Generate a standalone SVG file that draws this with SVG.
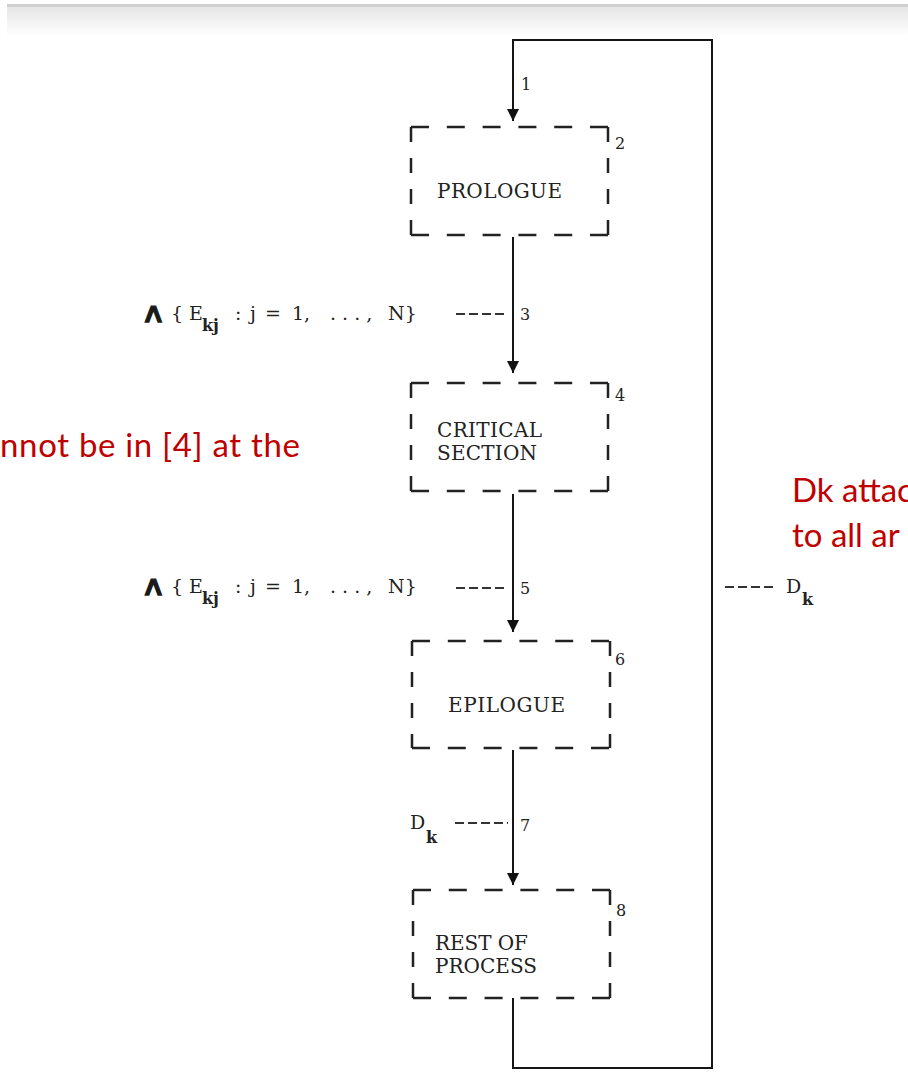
<svg xmlns="http://www.w3.org/2000/svg" width="908" height="1074" viewBox="0 0 908 1074">
<defs>
<linearGradient id="topfade" x1="0" y1="0" x2="0" y2="1">
<stop offset="0" stop-color="#e6e6e6"/>
<stop offset="1" stop-color="#ffffff"/>
</linearGradient>
<marker id="ah" markerUnits="userSpaceOnUse" markerWidth="12" markerHeight="12" viewBox="0 0 12 12" refX="12" refY="6" orient="auto">
<path d="M0,0 L12,6 L0,12 z" fill="#111"/>
</marker>
<style>
.wire{fill:none;stroke:#151515;stroke-width:2}
.lead{fill:none;stroke:#333;stroke-width:2.2;stroke-dasharray:9 4}
.bh{stroke:#222;stroke-width:2.5;stroke-dasharray:18 17.8}
.bv{stroke:#222;stroke-width:2.5;stroke-dasharray:15 16}
.lbl{font-family:"DejaVu Serif","Liberation Serif",serif;font-size:20px;fill:#222}
.num{font-family:"DejaVu Serif","Liberation Serif",serif;font-size:16px;fill:#222}
.math{font-family:"DejaVu Serif","Liberation Serif",serif;font-size:19px;fill:#222}
.sub{font-size:16px;font-weight:bold}
.wedge{font-family:"DejaVu Sans",sans-serif;font-size:26px;fill:#1a1a1a;stroke:#1a1a1a;stroke-width:1.2}
.red{font-family:Lato,"Open Sans",sans-serif;font-size:33px;fill:#c00000}
</style>
</defs>
<rect x="0" y="0" width="908" height="1074" fill="#ffffff"/>
<rect x="7" y="7" width="901" height="30" fill="url(#topfade)"/>
<line x1="7" y1="5.5" x2="908" y2="5.5" stroke="#cfcfcf" stroke-width="3"/>

<g id="connectors">
<path id="e8-2" class="wire" d="M513,998 L513,1068 L712,1068 L712,40 L513,40 L513,121" marker-end="url(#ah)"/>
<path id="e2-4" class="wire" d="M513,237 L513,373" marker-end="url(#ah)"/>
<path id="e4-6" class="wire" d="M513,494 L513,632" marker-end="url(#ah)"/>
<path id="e6-8" class="wire" d="M513,750 L513,885" marker-end="url(#ah)"/>
<line class="lead" x1="456" y1="314" x2="508" y2="314"/>
<line class="lead" x1="456" y1="588" x2="508" y2="588"/>
<line class="lead" x1="455" y1="823" x2="508" y2="823"/>
<line class="lead" x1="725" y1="587" x2="776" y2="587"/>
<text class="num" x="521" y="90">1</text>
<text class="num" x="520" y="320">3</text>
<text class="num" x="520" y="594">5</text>
<text class="num" x="520" y="831">7</text>
<text class="wedge" transform="translate(141,322) scale(1.3,1.05)">∧</text>
<text class="wedge" transform="translate(141,595) scale(1.3,1.05)">∧</text>
<text class="math" y="320"><tspan x="171">{</tspan><tspan x="189">E</tspan><tspan class="sub" x="202" y="331">kj</tspan><tspan x="235" y="320">:</tspan><tspan x="250">j</tspan><tspan x="265">=</tspan><tspan x="292">1,</tspan><tspan x="330">. . . ,</tspan><tspan x="388">N}</tspan></text>
<text class="math" y="593"><tspan x="171">{</tspan><tspan x="189">E</tspan><tspan class="sub" x="202" y="604">kj</tspan><tspan x="235" y="593">:</tspan><tspan x="250">j</tspan><tspan x="265">=</tspan><tspan x="292">1,</tspan><tspan x="330">. . . ,</tspan><tspan x="388">N}</tspan></text>
<text class="math" x="410" y="829">D<tspan class="sub" x="426" y="843">k</tspan></text>
<text class="math" x="786" y="593">D<tspan class="sub" x="802" y="605">k</tspan></text>
</g>

<g id="node2">
<line class="bh" x1="411" y1="127" x2="608" y2="127"/>
<line class="bh" x1="411" y1="235" x2="608" y2="235"/>
<line class="bv" x1="411" y1="127" x2="411" y2="235"/>
<line class="bv" x1="608" y1="127" x2="608" y2="235"/>
<text class="lbl" x="437" y="198" textLength="125">PROLOGUE</text>
<text class="num" x="615" y="149">2</text>
</g>

<g id="node4">
<line class="bh" x1="411" y1="383" x2="608" y2="383"/>
<line class="bh" x1="411" y1="491" x2="608" y2="491"/>
<line class="bv" x1="411" y1="383" x2="411" y2="491"/>
<line class="bv" x1="608" y1="383" x2="608" y2="491"/>
<text class="lbl" x="437" y="437" textLength="105">CRITICAL</text>
<text class="lbl" x="437" y="460" textLength="100">SECTION</text>
<text class="num" x="615" y="401">4</text>
</g>

<g id="node6">
<line class="bh" x1="412" y1="641" x2="610" y2="641"/>
<line class="bh" x1="412" y1="748" x2="610" y2="748"/>
<line class="bv" x1="412" y1="641" x2="412" y2="748"/>
<line class="bv" x1="610" y1="641" x2="610" y2="748"/>
<text class="lbl" x="448" y="712" textLength="117">EPILOGUE</text>
<text class="num" x="615" y="665">6</text>
</g>

<g id="node8">
<line class="bh" x1="413" y1="890" x2="610" y2="890"/>
<line class="bh" x1="413" y1="998" x2="610" y2="998"/>
<line class="bv" x1="413" y1="890" x2="413" y2="998"/>
<line class="bv" x1="610" y1="890" x2="610" y2="998"/>
<text class="lbl" x="435" y="950" textLength="93">REST OF</text>
<text class="lbl" x="435" y="973" textLength="102">PROCESS</text>
<text class="num" x="616" y="916">8</text>
</g>

<g id="notes">
<text class="red" x="0" y="457" textLength="300">nnot be in [4] at the</text>
<text class="red" x="792" y="502">Dk attac</text>
<text class="red" x="792" y="547">to all ar</text>
</g>
</svg>
